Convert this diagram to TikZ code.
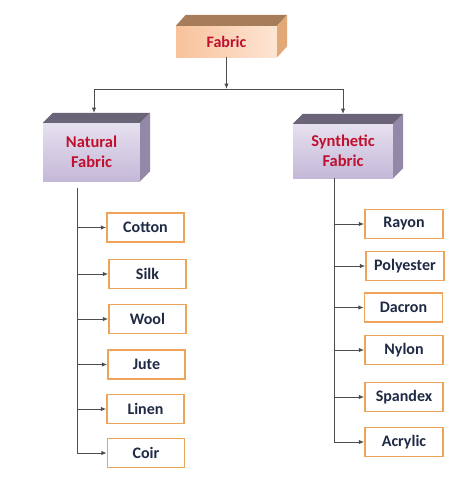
\documentclass[tikz,border=0pt]{standalone}
\usepackage{fontspec}
\setmainfont{Carlito}
\usetikzlibrary{arrows.meta}
\definecolor{itemborder}{HTML}{F0A45A}
\definecolor{itemtext}{HTML}{1F2A44}
\definecolor{toptext}{HTML}{C0102E}
\definecolor{linegray}{HTML}{4D4D4D}
\definecolor{peachL}{HTML}{F8C29C}
\definecolor{peachR}{HTML}{FDE5D4}
\definecolor{peachTop}{HTML}{A67C5B}
\definecolor{peachSide}{HTML}{E3A877}
\definecolor{lavT}{HTML}{E6E1EF}
\definecolor{lavB}{HTML}{C4B8D8}
\definecolor{lavTop}{HTML}{6B6378}
\definecolor{lavSide}{HTML}{9488A8}
\begin{document}
\begin{tikzpicture}[x=1pt,y=-1pt,
  itembox/.style={draw=itemborder, fill=white, line width=1.5pt, minimum width=77pt, minimum height=29pt,
    inner sep=0pt, text=itemtext, font=\fontsize{16}{18}\selectfont\bfseries},
  peachbox/.style={left color=peachL, right color=peachR, inner sep=0pt, text=toptext,
    font=\fontsize{16}{18}\selectfont\bfseries, align=center},
  lavbox/.style={top color=lavT, bottom color=lavB, inner sep=0pt, text=toptext,
    font=\fontsize{16.5}{20}\selectfont\bfseries, align=center},
  conn/.style={draw=linegray, line width=1pt},
  arr/.style={conn, -{Latex[length=5.5pt,width=4.5pt]}}
]
\useasboundingbox (0,0) rectangle (474,480);

% Fabric box
\node[peachbox, minimum width=101pt, minimum height=31pt] (fabric) at (226.5,41.5) {Fabric};
\fill[peachTop] (fabric.north west) -- ([shift={(10,-11)}]fabric.north west) -- ([shift={(10,-11)}]fabric.north east) -- (fabric.north east) -- cycle;
\fill[peachSide] (fabric.north east) -- ([shift={(10,-11)}]fabric.north east) -- ([shift={(10,-11)}]fabric.south east) -- (fabric.south east) -- cycle;

% Natural Fabric box
\node[lavbox, minimum width=97pt, minimum height=58pt] (natural) at (91.5,152) {Natural\\Fabric};
\fill[lavTop] (natural.north west) -- ([shift={(10,-10)}]natural.north west) -- ([shift={(10,-10)}]natural.north east) -- (natural.north east) -- cycle;
\fill[lavSide] (natural.north east) -- ([shift={(10,-10)}]natural.north east) -- ([shift={(10,-10)}]natural.south east) -- (natural.south east) -- cycle;

% Synthetic Fabric box
\node[lavbox, minimum width=100pt, minimum height=54pt] (synthetic) at (343,151) {Synthetic\\Fabric};
\fill[lavTop] (synthetic.north west) -- ([shift={(10,-10)}]synthetic.north west) -- ([shift={(10,-10)}]synthetic.north east) -- (synthetic.north east) -- cycle;
\fill[lavSide] (synthetic.north east) -- ([shift={(10,-10)}]synthetic.north east) -- ([shift={(10,-10)}]synthetic.south east) -- (synthetic.south east) -- cycle;

% Top connectors
\coordinate (junction) at (226.5,89);
\coordinate (hl) at (94,89);
\coordinate (hr) at (343,89);
\coordinate (nattop) at (94,113);
\coordinate (syntop) at (343,114);
\draw[arr] (fabric.south) -- (junction);
\draw[conn] (hl) -- (hr);
\draw[arr] (hl) -- (nattop);
\draw[arr] (hr) -- (syntop);

% Natural children
\node[itembox] (cotton) at (145.5,227.5) {Cotton};
\node[itembox] (silk)   at (147.5,274) {Silk};
\node[itembox] (wool)   at (147.5,319) {Wool};
\node[itembox] (jute)   at (146.5,364.5) {Jute};
\node[itembox] (linen)  at (145.5,409) {Linen};
\node[itembox] (coir)   at (146,453) {Coir};

\coordinate (nv) at (77,188);
\draw[conn] (nv) -- (nv |- coir.west);
\foreach \n in {cotton,silk,wool,jute,linen,coir}
  \draw[arr] (nv |- \n.west) -- (\n.west);

% Synthetic children
\node[itembox, minimum width=78pt] (rayon)     at (404,224) {Rayon};
\node[itembox, minimum width=78pt] (polyester) at (405,266) {Polyester};
\node[itembox, minimum width=78pt] (dacron)    at (403.5,307.5) {Dacron};
\node[itembox, minimum width=78pt] (nylon)     at (404,350) {Nylon};
\node[itembox, minimum width=78pt] (spandex)   at (404,397) {Spandex};
\node[itembox, minimum width=78pt] (acrylic)   at (404,442) {Acrylic};

\coordinate (sv) at (334,178);
\draw[conn] (sv) -- (sv |- acrylic.west);
\foreach \n in {rayon,polyester,dacron,nylon,spandex,acrylic}
  \draw[arr] (sv |- \n.west) -- (\n.west);
\end{tikzpicture}
\end{document}
